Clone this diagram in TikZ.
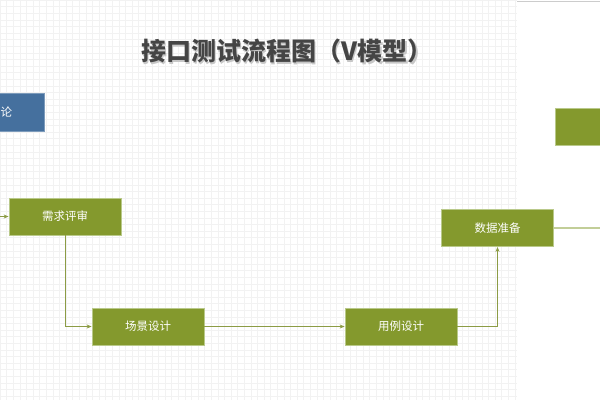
\documentclass[tikz,border=0pt]{standalone}
\usepackage{fontspec}
\newfontfamily\cjk{Noto Sans CJK SC}
\usetikzlibrary{arrows.meta}
\definecolor{olive}{HTML}{84992D}
\definecolor{oliveedge}{HTML}{B9C98A}
\definecolor{linec}{HTML}{8C9C45}
\definecolor{linelight}{HTML}{C2CE98}
\definecolor{bluebox}{HTML}{45709E}
\definecolor{gridc}{HTML}{F2F2F2}
\definecolor{titlec}{HTML}{454545}
\tikzset{
  stepbox/.style={draw=oliveedge, line width=0.8pt, fill=olive, minimum width=112pt, minimum height=37pt, inner sep=0pt, text=white, font=\cjk\fontsize{11.5}{13}\selectfont},
  conn/.style={draw=linec, line width=0.9pt, -{Stealth[length=5pt,width=4pt]}},
  connplain/.style={draw=linelight, line width=1.2pt}
}
\begin{document}
\begin{tikzpicture}[x=1pt,y=-1pt]
\useasboundingbox (0,0) rectangle (600,400);
\fill[white] (0,0) rectangle (600,400);
% grid
\foreach \i in {0,...,78} { \draw[gridc, line width=0.45pt] ({\i*6.6},0) -- ({\i*6.6},400); }
\foreach \j in {0,...,60} { \draw[gridc, line width=0.45pt] (0,{\j*6.6}) -- (517,{\j*6.6}); }
\fill[white] (517.5,0) rectangle (600,400);
\draw[gray!40, line width=1pt] (517,1) -- (600,1);
% title
\node[text=black!22] (titleshadow) at (288.5,52.5) {\cjk\bfseries\fontsize{25}{29}\selectfont 接口测试流程图（V模型）};
\node[text=titlec] (title) at (287,51) {\cjk\bfseries\fontsize{25}{29}\selectfont 接口测试流程图（V模型）};
% blue box (partial)
\node[draw=bluebox!70, fill=bluebox, minimum width=100pt, minimum height=38pt, inner sep=0pt, anchor=east, text=white] (theory) at (44,112) {};
\node[text=white, anchor=west, inner sep=0pt, font=\cjk\fontsize{11.5}{13}\selectfont] (theorytxt) at (0.5,112) {论};
% boxes
\node[stepbox] (req) at (65,216.5) {需求评审};
\node[stepbox] (scene) at (148,326.5) {场景设计};
\node[stepbox] (case) at (401,326.5) {用例设计};
\node[stepbox] (data) at (497.5,228) {数据准备};
\node[stepbox, anchor=north west] (next) at (555,108) {};
% connectors
\coordinate (inl) at (0,216.5);
\coordinate (outr) at (601,228);
\draw[conn] (inl) -- (req.west);
\draw[conn] (req.south) |- (scene.west);
\draw[conn] (scene.east) -- (case.west);
\draw[conn] (case.east) -| (data.south);
\draw[connplain] (data.east) -- (outr);
\end{tikzpicture}
\end{document}
